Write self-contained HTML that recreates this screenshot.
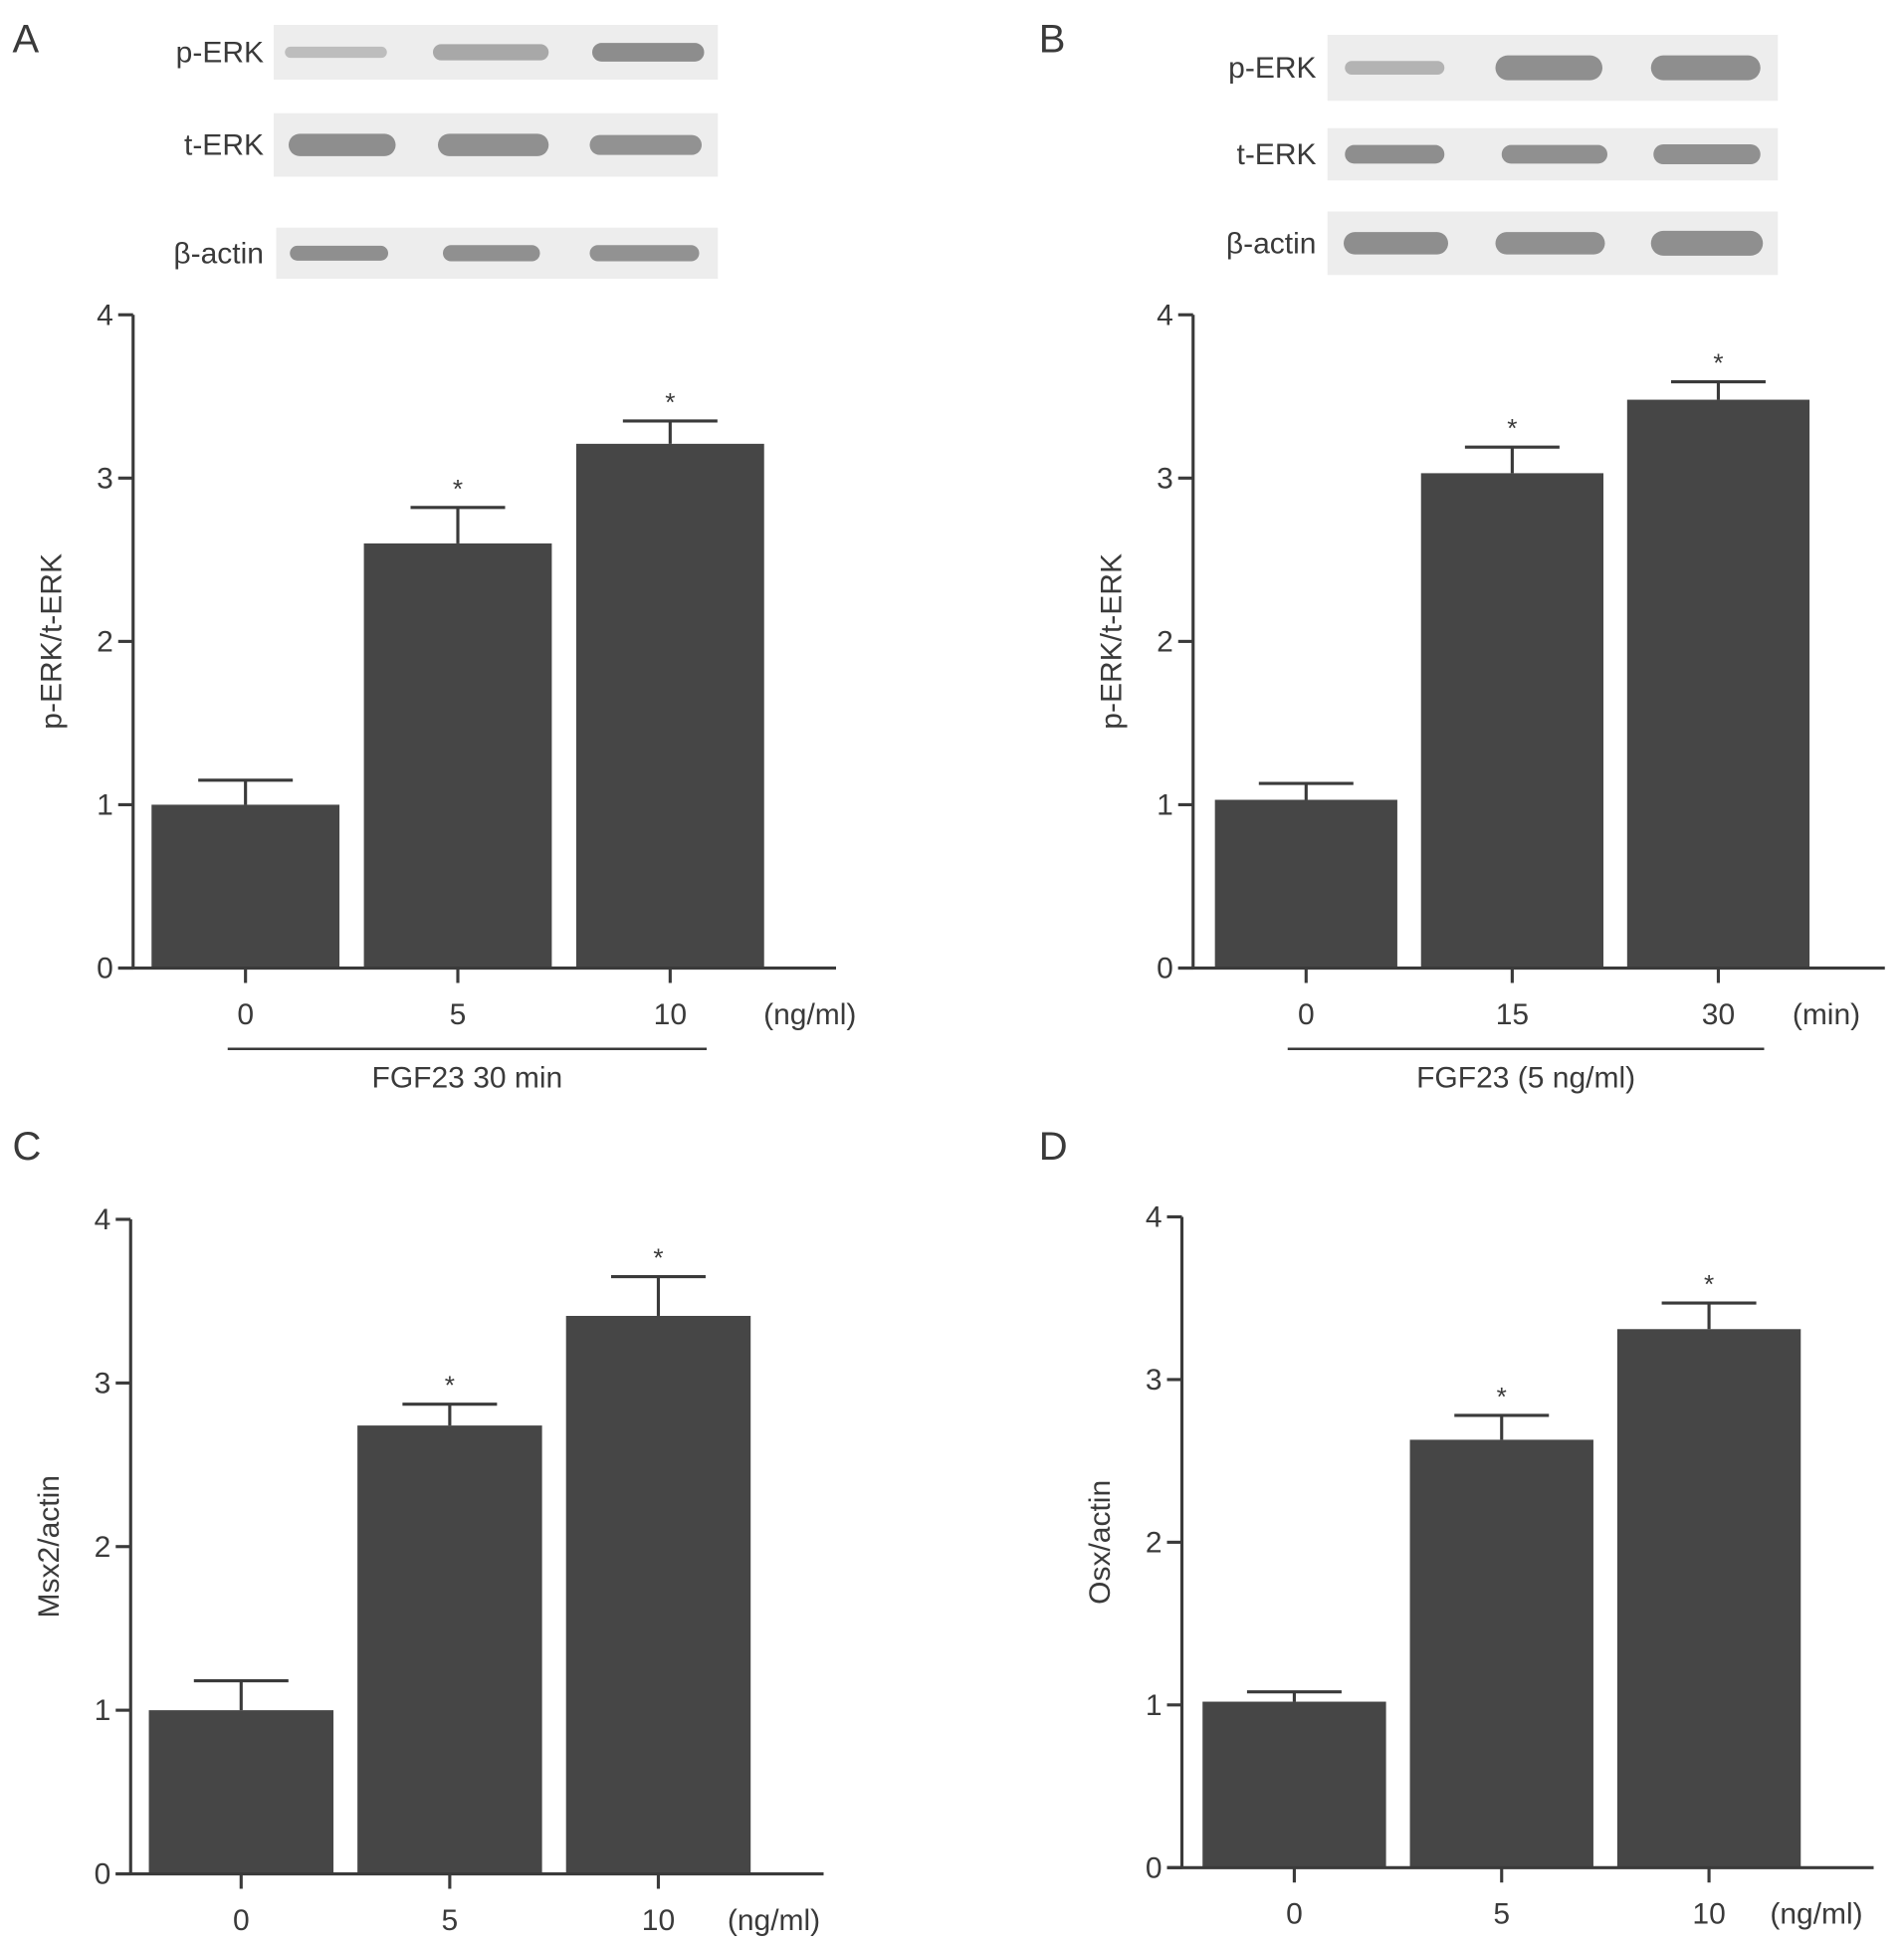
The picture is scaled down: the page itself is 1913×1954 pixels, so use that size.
<!DOCTYPE html>
<html><head><meta charset="utf-8"><style>
html,body{margin:0;padding:0;background:#fff;}
svg{display:block;}
text{font-family:"Liberation Sans",sans-serif;fill:#3a3a3a;}
</style></head><body>
<svg id="fig" width="1913" height="1954" viewBox="0 0 1530.4 1563.2" preserveAspectRatio="none" xmlns="http://www.w3.org/2000/svg"></svg>
<script>
// Panel A data
const catsA = ["0","5","10"];
const valsA = [1.0, 2.6, 3.21];
const errA = [0.15, 0.22, 0.14];
// Panel B data
const catsB = ["0","15","30"];
const valsB = [1.03, 3.03, 3.48];
const errB = [0.10, 0.16, 0.11];
// Panel C data
const catsC = ["0","5","10"];
const valsC = [1.0, 2.74, 3.41];
const errC = [0.18, 0.13, 0.24];
// Panel D data
const catsD = ["0","5","10"];
const valsD = [1.02, 2.63, 3.31];
const errD = [0.06, 0.15, 0.16];
const yTicks = [0,1,2,3,4];

const NS="http://www.w3.org/2000/svg";
const svg=document.getElementById('fig');
function el(tag,attrs,parent,txt){const e=document.createElementNS(NS,tag);for(const k in attrs)e.setAttribute(k,attrs[k]);if(txt!==undefined)e.textContent=txt;(parent||svg).appendChild(e);return e;}

function panel(o){
  const g=el('g',{});
  
  
  const y=v=>o.y0-(o.y0-o.y4)*v/4;
  const step=(o.barEnd-o.barStart)/3;
  const bw=step*0.885;
  o.vals.forEach((v,i)=>{
    const x=o.barStart+step*i+(step-bw)/2;
    const cx=x+bw/2;
    const eb=el('line',{x1:cx,x2:cx,y1:y(v),y2:y(v+o.errs[i]),stroke:'#3a3a3a','stroke-width':2.5},g);
    
    
    const cap=el('line',{x1:cx-38,x2:cx+38,y1:y(v+o.errs[i]),y2:y(v+o.errs[i]),stroke:'#3a3a3a','stroke-width':2.5},g);
    
    
    const r=el('rect',{x:x,y:y(v),width:bw,height:o.y0-y(v),fill:'#464646'},g);
    
    
    if(i>0){const s=el('text',{x:cx,y:y(v+o.errs[i])-8,'font-size':21,'text-anchor':'middle'},g,'*');
      
      }
    const t=el('line',{x1:cx,x2:cx,y1:o.y0,y2:o.y0+12,stroke:'#3a3a3a','stroke-width':2.5},g);
    
    
    const l=el('text',{x:cx,y:o.y0+45,'font-size':24,'text-anchor':'middle'},g,o.cats[i]);
    
    
  });
  const ya=el('line',{x1:o.ax,x2:o.ax,y1:o.y4,y2:o.y0,stroke:'#3a3a3a','stroke-width':2.5},g);
  
  
  const xa=el('line',{x1:o.ax-12,x2:o.xEnd,y1:o.y0,y2:o.y0,stroke:'#3a3a3a','stroke-width':2.5},g);
  
  
  yTicks.forEach(t=>{
    const tl=el('line',{x1:o.ax-12,x2:o.ax,y1:y(t),y2:y(t),stroke:'#3a3a3a','stroke-width':2.5},g);
    
    
    const tt=el('text',{x:o.ax-16,y:y(t)+8,'font-size':24,'text-anchor':'end'},g,String(t));
    
    
  });
  const yt=el('text',{x:0,y:0,'font-size':24,'text-anchor':'middle',transform:`translate(${o.ax-58},${(o.y0+o.y4)/2}) rotate(-90)`},g,o.ytitle);
  
  
  const u=el('text',{x:o.unitX,y:o.y0+45,'font-size':24,'text-anchor':'middle'},g,o.unit);
  
  
  if(o.under){
    const ul=el('line',{x1:o.under[0],x2:o.under[1],y1:o.y0+65,y2:o.y0+65,stroke:'#3a3a3a','stroke-width':2},g);
    
    
    const ut=el('text',{x:(o.under[0]+o.under[1])/2,y:o.y0+96,'font-size':24,'text-anchor':'middle'},g,o.underText);
    
    
  }
  const pl=el('text',{x:o.letterX,y:o.letterY,'font-size':32},g,o.letter);
  
  
}

function blot(label,x1,x2,y1,y2,labelX,bands,shades){
  const g=el('g',{});
  
  
  el('rect',{x:x1,y:y1,width:x2-x1,height:y2-y1,fill:'#ededed'},g);
  const cy=(y1+y2)/2;
  bands.forEach((b,i)=>{
    el('rect',{x:b[0],y:cy-b[2]/2,width:b[1]-b[0],height:b[2],rx:b[2]/2,fill:shades[i]},g);
  });
  const t=el('text',{x:labelX,y:cy+8,'font-size':24,'text-anchor':'end'},g,label);
  
  
}
blot('p-ERK',220,577,20,64,212,[[229,311,9],[348,441,13],[476,566,15]],['#bdbdbd','#a8a8a8','#8d8d8d']);
blot('t-ERK',220,577,91,142,212,[[232,318,18],[352,441,18],[474,564,16]],['#8e8e8e','#909090','#929292']);
blot('β-actin',222,577,183,224,212,[[233,312,12],[356,434,13],[474,562,13]],['#8f8f8f','#909090','#929292']);
blot('p-ERK',1067,1429,28,81,1058,[[1081,1161,11],[1202,1288,20],[1327,1415,20]],['#b3b3b3','#8f8f8f','#8e8e8e']);
blot('t-ERK',1067,1429,103,145,1058,[[1081,1161,15],[1207,1292,15],[1329,1415,16]],['#8e8e8e','#909090','#909090']);
blot('β-actin',1067,1429,170,221,1058,[[1080,1164,18],[1202,1290,18],[1327,1417,20]],['#8e8e8e','#909090','#8f8f8f']);

panel({name:'panel-a-chart',letter:'A',letterX:10,letterY:42,cats:catsA,vals:valsA,errs:errA,ax:107,y0:778,y4:253,barStart:112,barEnd:624,xEnd:672,ytitle:'p-ERK/t-ERK',unit:'(ng/ml)',unitX:651,under:[183,568],underText:'FGF23 30 min'});
panel({name:'panel-b-chart',letter:'B',letterX:835,letterY:42,cats:catsB,vals:valsB,errs:errB,ax:959,y0:778,y4:253,barStart:967,barEnd:1464,xEnd:1515,ytitle:'p-ERK/t-ERK',unit:'(min)',unitX:1468,under:[1035,1418],underText:'FGF23 (5 ng/ml)'});
panel({name:'panel-c-chart',letter:'C',letterX:10,letterY:932,cats:catsC,vals:valsC,errs:errC,ax:105,y0:1506,y4:980,barStart:110,barEnd:613,xEnd:662,ytitle:'Msx2/actin',unit:'(ng/ml)',unitX:622});
panel({name:'panel-d-chart',letter:'D',letterX:835,letterY:932,cats:catsD,vals:valsD,errs:errD,ax:950,y0:1501,y4:978,barStart:957,barEnd:1457,xEnd:1506,ytitle:'Osx/actin',unit:'(ng/ml)',unitX:1460});
</script>
</body></html>
